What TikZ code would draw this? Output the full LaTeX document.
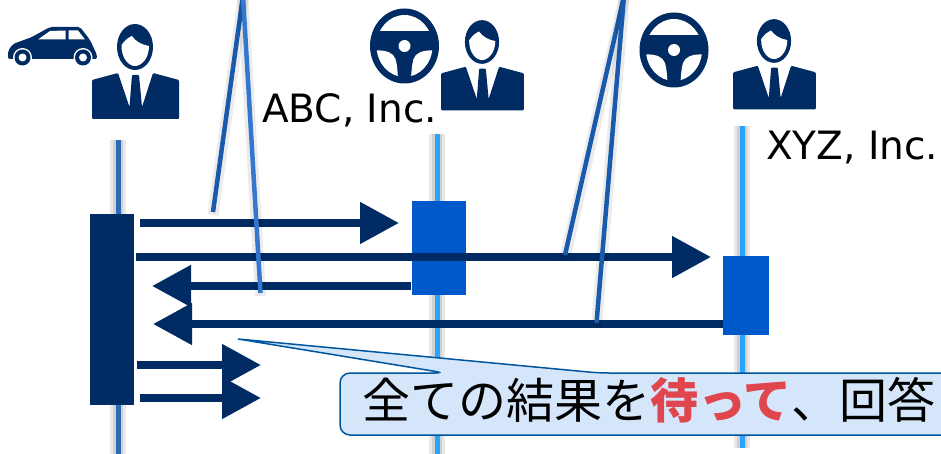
\documentclass[tikz,border=0pt]{standalone}
\usepackage{fontspec}
\setmainfont{DejaVu Sans}
\newfontfamily\cjk{Noto Sans CJK JP}
\usetikzlibrary{arrows.meta}
\definecolor{navy}{HTML}{002B63}
\definecolor{actblue}{HTML}{0059C8}
\definecolor{skyline}{HTML}{29A3FF}
\definecolor{midline}{HTML}{2A6AB8}
\definecolor{slantdark}{HTML}{1A5AAC}
\definecolor{slantlight}{HTML}{3576CF}
\definecolor{noteblue}{HTML}{D5E6FB}
\definecolor{noteedge}{HTML}{00559F}
\definecolor{waitred}{HTML}{E0464E}
\tikzstyle{caller} = [rectangle, inner sep=0pt, minimum width=44pt, minimum height=191pt, fill=navy]
\tikzstyle{callee} = [rectangle, inner sep=0pt, fill=actblue]
\tikzstyle{msg} = [navy, line width=8pt, -{Triangle[length=39pt,width=40pt]}]
\tikzstyle{lifeline} = [line width=5pt, preaction={draw=black, opacity=.09, line width=16pt}, preaction={draw=black, opacity=.1, line width=10pt}]
\tikzstyle{slant} = [line width=4.5pt, preaction={draw=black, opacity=.08, line width=11pt, transform canvas={yshift=-3pt}}]
\tikzstyle{company} = [anchor=base west, inner sep=0pt, font=\fontsize{39}{39}\selectfont]
\tikzstyle{notetext} = [anchor=west, inner sep=0pt, font=\cjk\fontsize{48}{48}\selectfont]
\tikzset{
  person/.pic={
    \fill [navy] (0,0) ellipse [x radius=18, y radius=23];
    \fill [white] (-13.5,-2) .. controls (-10,-7) and (-6,-10) .. (-3,-11) .. controls (0,-6) and (7,-2) .. (14,-1) .. controls (14,12) and (6,19) .. (0,19) .. controls (-7,19) and (-14,10) .. (-13.5,-2);
    \fill [navy, rounded corners=1pt] (-43,72) -- (-43,33) -- (-17,26) -- (-5.5,60) -- (-3,28) -- (4,28) -- (7,60) -- (18,26) -- (44,33) -- (44,72) -- cycle;
  },
  steering/.pic={
    \fill [navy] (0,0) ellipse [x radius=34.5, y radius=37.5];
    \begin{scope}
      \clip (0,0) ellipse [x radius=28, y radius=31];
      \fill [white] (-40,-40) rectangle (40,-14.5);
      \fill [white] (-40,4.5) -- (-28,4.5) .. controls (-18,4) and (-11,7) .. (-9,13) .. controls (-7,20) and (-7,26) .. (-6,40) -- (-40,40) -- cycle;
      \fill [white] (40,4.5) -- (28,4.5) .. controls (18,4) and (11,7) .. (9,13) .. controls (7,20) and (7,26) .. (6,40) -- (40,40) -- cycle;
    \end{scope}
    \fill [white] (0,0) circle (6);
  },
  auto/.pic={
    \fill [navy, rounded corners=2pt] (8,59) -- (8,51) -- (13,44) -- (32,37) -- (50,27) -- (80,27) -- (90,40) -- (97,55) -- (97,59) -- cycle;
    \fill [white] (38,39.5) -- (50,31) -- (65.5,30.5) -- (65.5,39.5) -- cycle;
    \fill [white] (68.5,30.5) -- (78,30.5) -- (85,39.5) -- (68.5,39.5) -- cycle;
    \foreach \wx in {22.5,83} {
      \fill [white] (\wx,57.5) circle (9.5);
      \fill [navy] (\wx,57.5) circle (8);
      \fill [white] (\wx,57.5) circle (4);
    }
  }
}

\begin{document}
\begin{tikzpicture}[x=1pt, y=-1pt]

\path [use as bounding box, clip] (0,0) rectangle (941,454);

\coordinate (topA) at (118,140);
\coordinate (endA) at (118,456);
\coordinate (topB) at (437,134);
\coordinate (endB) at (437,456);
\coordinate (topC) at (742,126);
\coordinate (endC) at (742,448);

\draw [lifeline, midline] (topA) -- (endA);
\draw [lifeline, skyline] (topB) -- (endB);
\draw [lifeline, skyline] (topC) -- (endC);

\node (boxA) [caller] at (112,309.5) {};
\node (boxB) [callee, minimum width=54pt, minimum height=94pt] at (439,248) {};
\node (boxC) [callee, minimum width=46pt, minimum height=79pt] at (746,295.5) {};

\pic (car) at (0,0) {auto};
\pic (man1) at (135,47) {person};
\pic (wheel2) at (404.5,46) {steering};
\pic [scale=.95] (man2) at (482,42) {person};
\pic (wheel3) at (674,50) {steering};
\pic [scale=.95] (man3) at (774,41) {person};

\node (abc) [company] at (262,123) {ABC, Inc.};
\node (xyz) [company] at (766,160) {XYZ, Inc.};

\coordinate (s1) at (140,223);
\coordinate (e1) at (399,223);
\coordinate (s2) at (136,257);
\coordinate (e2) at (711,257);
\coordinate (s3) at (411,286);
\coordinate (e3) at (152,286);
\coordinate (s4) at (723,324);
\coordinate (e4) at (153,324);
\coordinate (s5) at (137,365);
\coordinate (e5) at (261,365);
\coordinate (s6) at (140,398);
\coordinate (e6) at (261,398);

\draw [msg] (s1) -- (e1);
\draw [msg] (s2) -- (e2);
\draw [msg] (s3) -- (e3);
\draw [msg] (s4) -- (e4);
\draw [msg] (s5) -- (e5);
\draw [msg] (s6) -- (e6);

\coordinate (peakL) at (243,-4);
\coordinate (peakR) at (624,-4);
\coordinate (foot1) at (213,212);
\coordinate (foot2) at (260.5,293);
\coordinate (foot3) at (565,255);
\coordinate (foot4) at (596.5,323);

\draw [slant, slantdark] (peakL) -- (foot1);
\draw [slant, slantlight] (peakL) -- (foot2);
\draw [slant, slantdark] (peakR) -- (foot3);
\draw [slant, slantdark] (peakR) -- (foot4);

\coordinate (tail) at (238,339);

\draw [noteedge, fill=noteblue, line width=1.5pt, rounded corners=10pt] (tail) -- (445,373) [sharp corners] -- (350,373) [rounded corners=10pt] -- (340,373) -- (340,435) -- (960,435) -- (960,373) -- (599,373) [sharp corners] -- cycle;

\node (note) [notetext] at (362,400) {全ての結果を{\bfseries\color{waitred}待って}、回答};

\end{tikzpicture}
\end{document}
